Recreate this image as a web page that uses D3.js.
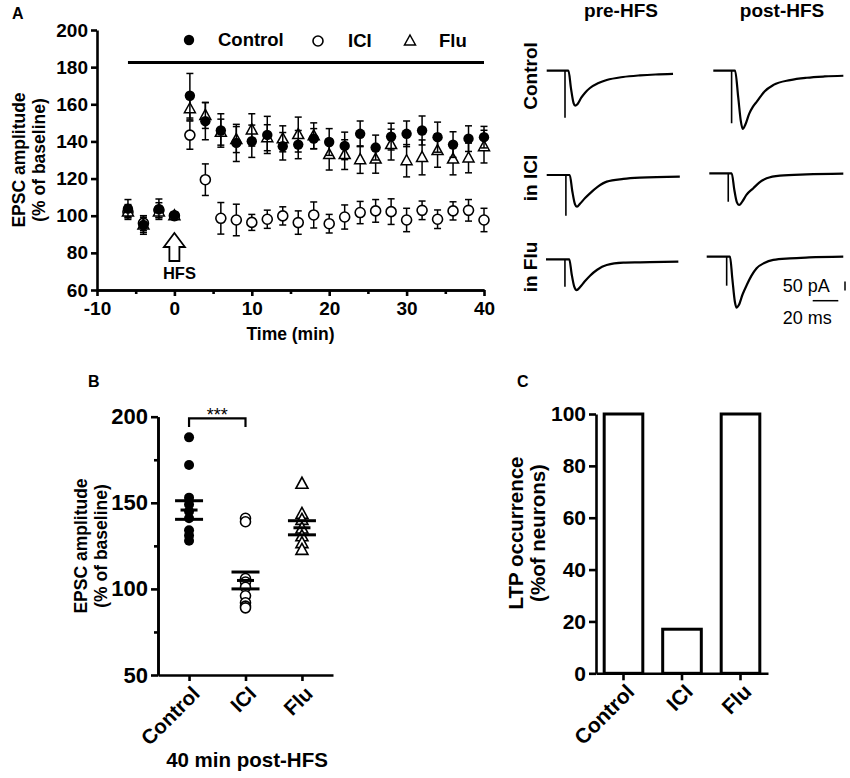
<!DOCTYPE html>
<html>
<head>
<meta charset="utf-8">
<script src="https://cdn.jsdelivr.net/npm/d3@7"></script>
<style>
  body { margin: 0; background: #fff; }
  svg { font-family: "Liberation Sans", Arial, sans-serif; font-weight: bold; }
</style>
</head>
<body>
<svg id="fig" width="850" height="778"></svg>
<script>
// ---------- Panel A: time course (% of baseline) ----------
const timePoints = [-6, -4, -2, 0, 2, 4, 6, 8, 10, 12, 14, 16, 18, 20, 22, 24, 26, 28, 30, 32, 34, 36, 38, 40];
const controlMean = [103.8, 95.0, 103.5, 100, 164.6, 150.9, 145.9, 139.2, 140.1, 143.5, 137.4, 138.3, 141.5, 139.7, 137.6, 144.1, 136.7, 142.6, 144.1, 145.9, 142.3, 138.3, 141.5, 142.3];
const controlSem  = [4.9, 5, 5.5, 1.5, 12, 10, 9, 10, 8.7, 10, 7.4, 7.6, 5.4, 7.2, 7.4, 6.9, 6.7, 7.2, 6.9, 7.8, 8.1, 6.9, 6.9, 5.8];
const iciMean = [102, 96, 103, 100, 143.4, 119.4, 98.6, 97.7, 96.4, 98.1, 99.9, 96.3, 100.4, 95.7, 99.3, 101.7, 102.6, 102.2, 97.7, 102.9, 98.1, 102.6, 102.9, 97.7];
const iciSem  = [4, 4, 4, 1, 7.6, 8.5, 8.5, 8.5, 4.3, 4.9, 4.9, 6.3, 7.0, 5, 6.5, 6, 6.1, 6.9, 6.3, 5, 5, 4.9, 5.8, 6.3];
const fluMean = [102, 95, 102, 100, 157.6, 154.0, 145, 141, 146.2, 142, 141.4, 143.7, 143, 132.9, 132.9, 130.2, 130.5, 138.3, 129.6, 131.4, 135.1, 130.5, 131.1, 137.2];
const fluSem  = [3, 4, 3, 1, 6, 7, 7, 7, 8.7, 7, 7, 9.4, 7, 8.3, 8, 7.4, 7.6, 8.3, 8.7, 9.4, 9, 8.5, 8, 8.8];
const xTicksA = [-10, 0, 10, 20, 30, 40];
const xMinorA = [-5, 5, 15, 25, 35];
const yTicksA = [60, 80, 100, 120, 140, 160, 180, 200];
const drugBar = [-6, 40];      // time span of drug application
const drugBarLevel = 182.5;
const hfsTime = 0;

// ---------- Traces (ms, pA) ----------
const traceRows = ["Control", "in ICI", "in Flu"];
const traceCols = ["pre-HFS", "post-HFS"];
const controlPre  = [[0,0],[17,0],[19,-100],[21,-180],[22.3,-194],[24,-186],[27,-150],[30,-122],[33.8,-96],[40,-70],[46.9,-52],[59.6,-35],[72.9,-26],[85,-21],[98.7,-18]];
const controlPost = [[0,0],[17,0],[19.5,-150],[21.5,-280],[23,-324],[25,-300],[28,-240],[31,-200],[34,-172],[40,-115],[47,-79],[60,-52],[73,-39],[87,-32],[101.6,-28]];
const iciPre  = [[0,0],[18,0],[20,-90],[22,-160],[23.7,-176],[26,-160],[30,-128],[33.8,-102],[40,-65],[46.9,-37],[59.9,-22],[72.9,-15],[104,-9]];
const iciPost = [[0,0],[17.5,0],[19.5,-90],[21.5,-160],[23.4,-176],[25.5,-160],[29,-120],[34.4,-83],[39,-52],[44.8,-28],[55.2,-13],[76,-6],[104.7,-2]];
const fluPre  = [[0,0],[18.2,0],[20,-80],[22,-150],[24,-171],[26.5,-155],[30,-125],[34.4,-91],[40,-58],[47.4,-32],[60.4,-19],[73.5,-17],[103.4,-13]];
const fluPost = [[0,0],[18.2,0],[20,-120],[22,-250],[23.4,-283],[25,-270],[28,-210],[31.3,-157],[35,-105],[39,-64],[45,-35],[52,-18],[65,-9],[80,-4],[106.7,0]];
// stimulus artifact: [time ms, amplitude pA]
const artifacts = [[14.3,-261],[14.3,-292],[15,-226],[14.8,-158],[14.8,-152],[15.6,-161]];
const scaleBarPA = 50;
const scaleBarMS = 20;

// ---------- Panel B: 40 min post-HFS scatter ----------
const groups = ["Control", "ICI", "Flu"];
const bControl = [188, 172, 153, 149, 145, 141, 134, 131, 128];
const bIci = [141, 139, 106, 104, 101, 96, 92, 90, 89];
const bFlu = [161, 143.5, 140, 135, 130.5, 126.5, 122.6];
const bMean = [145.8, 104.9, 135.5];
const bSem = [5.4, 4.9, 4.1];
const yTicksB = [50, 100, 150, 200];
const yMinorB = [75, 125, 175];

// ---------- Panel C: LTP occurrence ----------
const cValues = [100, 17, 100];
const yTicksC = [0, 20, 40, 60, 80, 100];

const svg = d3.select("#fig");
const plain = d => String(d);   // hyphen minus like the original, not U+2212

function styleAxis(g, fontSize) {
    g.select(".domain").attr("stroke", "#000").attr("stroke-width", 2.6);
    g.selectAll(".tick line").attr("stroke", "#000").attr("stroke-width", 2.6);
    g.selectAll(".tick text")
        .attr("fill", "#000")
        .style("font-size", fontSize + "px")
        .style("font-weight", "bold")
        .style("font-family", "'Liberation Sans', Arial, sans-serif");
}

function triangle(cx, cy, hw, h) {
    return "M" + cx + "," + (cy - h * 0.6) + "L" + (cx + hw) + "," + (cy + h * 0.4) +
        "L" + (cx - hw) + "," + (cy + h * 0.4) + "Z";
}

function vLabel(x, y, text, size) {
    svg.append("text")
        .attr("transform", "translate(" + x + "," + y + ") rotate(-90)")
        .attr("text-anchor", "middle")
        .style("font-size", size + "px")
        .text(text);
}

// ================= Panel A =================
const xA = d3.scaleLinear().domain([-10, 40]).range([97, 484]);
const yA = d3.scaleLinear().domain([60, 200]).range([290, 30]);

svg.append("g")
    .attr("transform", "translate(0," + yA(60) + ")")
    .call(d3.axisBottom(xA).tickValues(xMinorA).tickSize(4).tickSizeOuter(0).tickFormat(""))
    .call(g => styleAxis(g, 19));
svg.append("g")
    .attr("transform", "translate(0," + yA(60) + ")")
    .call(d3.axisBottom(xA).tickValues(xTicksA).tickSize(6).tickPadding(6).tickSizeOuter(0).tickFormat(plain))
    .call(g => styleAxis(g, 19));
svg.append("g")
    .attr("transform", "translate(" + xA(-10) + ",0)")
    .call(d3.axisLeft(yA).tickValues(yTicksA).tickSize(6).tickPadding(3).tickSizeOuter(0).tickFormat(plain))
    .call(g => styleAxis(g, 19));

svg.append("text").attr("x", 12).attr("y", 19).style("font-size", "16px").text("A");
vLabel(25, 160, "EPSC amplitude", 17.5);
vLabel(45, 160, "(% of baseline)", 17.5);
svg.append("text").attr("x", xA(15)).attr("y", 340).attr("text-anchor", "middle")
    .style("font-size", "17.5px").text("Time (min)");

// drug bar
svg.append("line")
    .attr("x1", xA(drugBar[0])).attr("x2", xA(drugBar[1]))
    .attr("y1", yA(drugBarLevel)).attr("y2", yA(drugBarLevel))
    .attr("stroke", "#000").attr("stroke-width", 3.2);

// HFS arrow
const ax = xA(hfsTime), aTop = 233, aBot = 261;
svg.append("path")
    .attr("d", "M" + ax + "," + aTop + " L" + (ax + 10.5) + "," + (aTop + 14) + " L" + (ax + 5) + "," + (aTop + 14) +
        " L" + (ax + 5) + "," + aBot + " L" + (ax - 5) + "," + aBot + " L" + (ax - 5) + "," + (aTop + 14) +
        " L" + (ax - 10.5) + "," + (aTop + 14) + " Z")
    .attr("fill", "#fff").attr("stroke", "#000").attr("stroke-width", 1.8);
svg.append("text").attr("x", ax + 5).attr("y", 279).attr("text-anchor", "middle")
    .style("font-size", "16.5px").text("HFS");

function errorBars(mean, sem) {
    const g = svg.append("g").attr("stroke", "#000").attr("stroke-width", 1.5);
    timePoints.forEach((t, i) => {
        const x = xA(t), y1 = yA(mean[i] - sem[i]), y2 = yA(mean[i] + sem[i]);
        g.append("line").attr("x1", x).attr("x2", x).attr("y1", y1).attr("y2", y2);
        g.append("line").attr("x1", x - 3.5).attr("x2", x + 3.5).attr("y1", y1).attr("y2", y1);
        g.append("line").attr("x1", x - 3.5).attr("x2", x + 3.5).attr("y1", y2).attr("y2", y2);
    });
}

// ICI (open circles)
errorBars(iciMean, iciSem);
svg.append("g").selectAll("circle").data(timePoints).join("circle")
    .attr("cx", d => xA(d)).attr("cy", (d, i) => yA(iciMean[i])).attr("r", 5)
    .attr("fill", "#fff").attr("stroke", "#000").attr("stroke-width", 1.6);
// Flu (open triangles)
errorBars(fluMean, fluSem);
svg.append("g").selectAll("path").data(timePoints).join("path")
    .attr("d", (d, i) => triangle(xA(d), yA(fluMean[i]), 5.5, 10))
    .attr("fill", "#fff").attr("stroke", "#000").attr("stroke-width", 1.5);
// Control (filled circles)
errorBars(controlMean, controlSem);
svg.append("g").selectAll("circle").data(timePoints).join("circle")
    .attr("cx", d => xA(d)).attr("cy", (d, i) => yA(controlMean[i])).attr("r", 5.2)
    .attr("fill", "#000");

// legend
const legend = svg.append("g").style("font-size", "18.5px");
legend.append("circle").attr("cx", 189).attr("cy", 40).attr("r", 5.2).attr("fill", "#000");
legend.append("text").attr("x", 218).attr("y", 46).text("Control");
legend.append("circle").attr("cx", 318).attr("cy", 41).attr("r", 5).attr("fill", "#fff").attr("stroke", "#000").attr("stroke-width", 1.6);
legend.append("text").attr("x", 348).attr("y", 47).text("ICI");
legend.append("path").attr("d", triangle(410, 41, 5.5, 10)).attr("fill", "#fff").attr("stroke", "#000").attr("stroke-width", 1.5);
legend.append("text").attr("x", 439).attr("y", 47).text("Flu");

// ================= Traces =================
const traceData = [controlPre, controlPost, iciPre, iciPost, fluPre, fluPost];
const traceOrigins = [[546.7, 70.7], [713.3, 70.7], [546.7, 175], [709.3, 173.3], [546, 259.3], [706.7, 256.7]];
const pxPerMs = 1.28, pxPerPA = 0.18;

traceData.forEach((tr, i) => {
    const [x0, y0] = traceOrigins[i];
    const xs = d3.scaleLinear().domain([0, 100]).range([x0, x0 + 100 * pxPerMs]);
    const ys = d3.scaleLinear().domain([0, -100]).range([y0, y0 + 100 * pxPerPA]);
    const line = d3.line().x(d => xs(d[0])).y(d => ys(d[1])).curve(d3.curveMonotoneX);
    const art = artifacts[i];
    svg.append("line")
        .attr("x1", xs(art[0])).attr("x2", xs(art[0]))
        .attr("y1", ys(0)).attr("y2", ys(art[1]))
        .attr("stroke", "#000").attr("stroke-width", 1.6);
    svg.append("path").attr("d", line(tr))
        .attr("fill", "none").attr("stroke", "#000").attr("stroke-width", 2.2)
        .attr("stroke-linejoin", "round");
});

[621, 782].forEach((x, i) => {
    svg.append("text").attr("x", x).attr("y", 17).attr("text-anchor", "middle")
        .style("font-size", "19px").text(traceCols[i]);
});
[76, 178, 267].forEach((y, i) => vLabel(537, y, traceRows[i], 19));

// scale bar
const sbX = d3.scaleLinear().domain([0, scaleBarMS]).range([812.7, 812.7 + scaleBarMS * pxPerMs]);
const sbY = d3.scaleLinear().domain([0, scaleBarPA]).range([290.5, 290.5 - scaleBarPA * pxPerPA]);
svg.append("line").attr("x1", 845).attr("x2", 845).attr("y1", sbY(0)).attr("y2", sbY(scaleBarPA))
    .attr("stroke", "#000").attr("stroke-width", 1.5);
svg.append("line").attr("x1", sbX(0)).attr("x2", sbX(scaleBarMS)).attr("y1", 300.7).attr("y2", 300.7)
    .attr("stroke", "#000").attr("stroke-width", 1.5);
svg.append("text").attr("x", 782.7).attr("y", 291.5).style("font-weight", "normal")
    .style("font-size", "18px").text(scaleBarPA + " pA");
svg.append("text").attr("x", 782.7).attr("y", 324).style("font-weight", "normal")
    .style("font-size", "18px").text(scaleBarMS + " ms");

// ================= Panel B =================
const xB = d3.scalePoint().domain(groups).range([158, 333]).padding(0.55);
const yB = d3.scaleLinear().domain([50, 200]).range([675, 416.7]);

svg.append("g").attr("transform", "translate(158,0)")
    .call(d3.axisLeft(yB).tickValues(yMinorB).tickSize(4).tickSizeOuter(0).tickFormat(""))
    .call(g => styleAxis(g, 22));
svg.append("g").attr("transform", "translate(158,0)")
    .call(d3.axisLeft(yB).tickValues(yTicksB).tickSize(7).tickPadding(3).tickSizeOuter(0))
    .call(g => styleAxis(g, 22));
svg.append("g").attr("transform", "translate(0,675)")
    .call(d3.axisBottom(xB).tickSize(6).tickSizeOuter(0).tickFormat(""))
    .call(g => styleAxis(g, 22));

groups.forEach(g => {
    svg.append("text")
        .attr("transform", "translate(" + (xB(g) + 7) + ",690) rotate(-45)")
        .attr("text-anchor", "end").attr("dy", "0.35em")
        .style("font-size", "20.5px").text(g);
});
svg.append("text").attr("x", 88).attr("y", 387).style("font-size", "16px").text("B");
vLabel(87, 546, "EPSC amplitude", 17.5);
vLabel(107, 546, "(% of baseline)", 17.5);
svg.append("text").attr("x", 247).attr("y", 767).attr("text-anchor", "middle")
    .style("font-size", "20.5px").text("40 min post-HFS");

// points
svg.append("g").selectAll("circle").data(bControl).join("circle")
    .attr("cx", xB("Control")).attr("cy", d => yB(d)).attr("r", 5).attr("fill", "#000");
svg.append("g").selectAll("circle").data(bIci).join("circle")
    .attr("cx", xB("ICI")).attr("cy", d => yB(d)).attr("r", 5)
    .attr("fill", "#fff").attr("stroke", "#000").attr("stroke-width", 1.6);
svg.append("g").selectAll("path").data(bFlu).join("path")
    .attr("d", d => triangle(xB("Flu"), yB(d), 6, 11))
    .attr("fill", "#fff").attr("stroke", "#000").attr("stroke-width", 1.6);

// mean +/- SEM
groups.forEach((g, i) => {
    const x = xB(g);
    const lines = [[bMean[i] + bSem[i], 14], [bMean[i], 8.5], [bMean[i] - bSem[i], 14]];
    lines.forEach(([v, hw]) => {
        svg.append("line").attr("x1", x - hw).attr("x2", x + hw)
            .attr("y1", yB(v)).attr("y2", yB(v))
            .attr("stroke", "#000").attr("stroke-width", 3);
    });
});

// significance bracket
const brTop = yB(199), brBot = yB(194);
svg.append("path")
    .attr("d", "M" + xB("Control") + "," + brBot + "V" + brTop + "H" + xB("ICI") + "V" + brBot)
    .attr("fill", "none").attr("stroke", "#000").attr("stroke-width", 2.2);
svg.append("text").attr("x", (xB("Control") + xB("ICI")) / 2).attr("y", 421)
    .attr("text-anchor", "middle").style("font-weight", "normal").style("font-size", "18px").text("***");

// ================= Panel C =================
const xC = d3.scaleBand().domain(groups).range([596, 768]).paddingInner(0.34).paddingOuter(0.14);
const yC = d3.scaleLinear().domain([0, 100]).range([673.3, 414]);

svg.append("g").attr("transform", "translate(596,0)")
    .call(d3.axisLeft(yC).tickValues(yTicksC).tickSize(7).tickPadding(3).tickSizeOuter(0))
    .call(g => styleAxis(g, 21));

svg.append("g").selectAll("rect").data(groups).join("rect")
    .attr("x", d => xC(d)).attr("width", xC.bandwidth())
    .attr("y", (d, i) => yC(cValues[i])).attr("height", (d, i) => yC(0) - yC(cValues[i]))
    .attr("fill", "#fff").attr("stroke", "#000").attr("stroke-width", 3);

svg.append("g").attr("transform", "translate(0,673.3)")
    .call(d3.axisBottom(xC).tickSize(7).tickSizeOuter(0).tickFormat(""))
    .call(g => styleAxis(g, 21));

groups.forEach(g => {
    svg.append("text")
        .attr("transform", "translate(" + (xC(g) + xC.bandwidth() / 2 + 7) + ",688) rotate(-45)")
        .attr("text-anchor", "end").attr("dy", "0.35em")
        .style("font-size", "21px").text(g);
});
svg.append("text").attr("x", 517).attr("y", 387).style("font-size", "16px").text("C");
vLabel(523, 533, "LTP occurrence", 20.5);
vLabel(545, 533, "(%of neurons)", 20.5);
</script>
</body>
</html>
